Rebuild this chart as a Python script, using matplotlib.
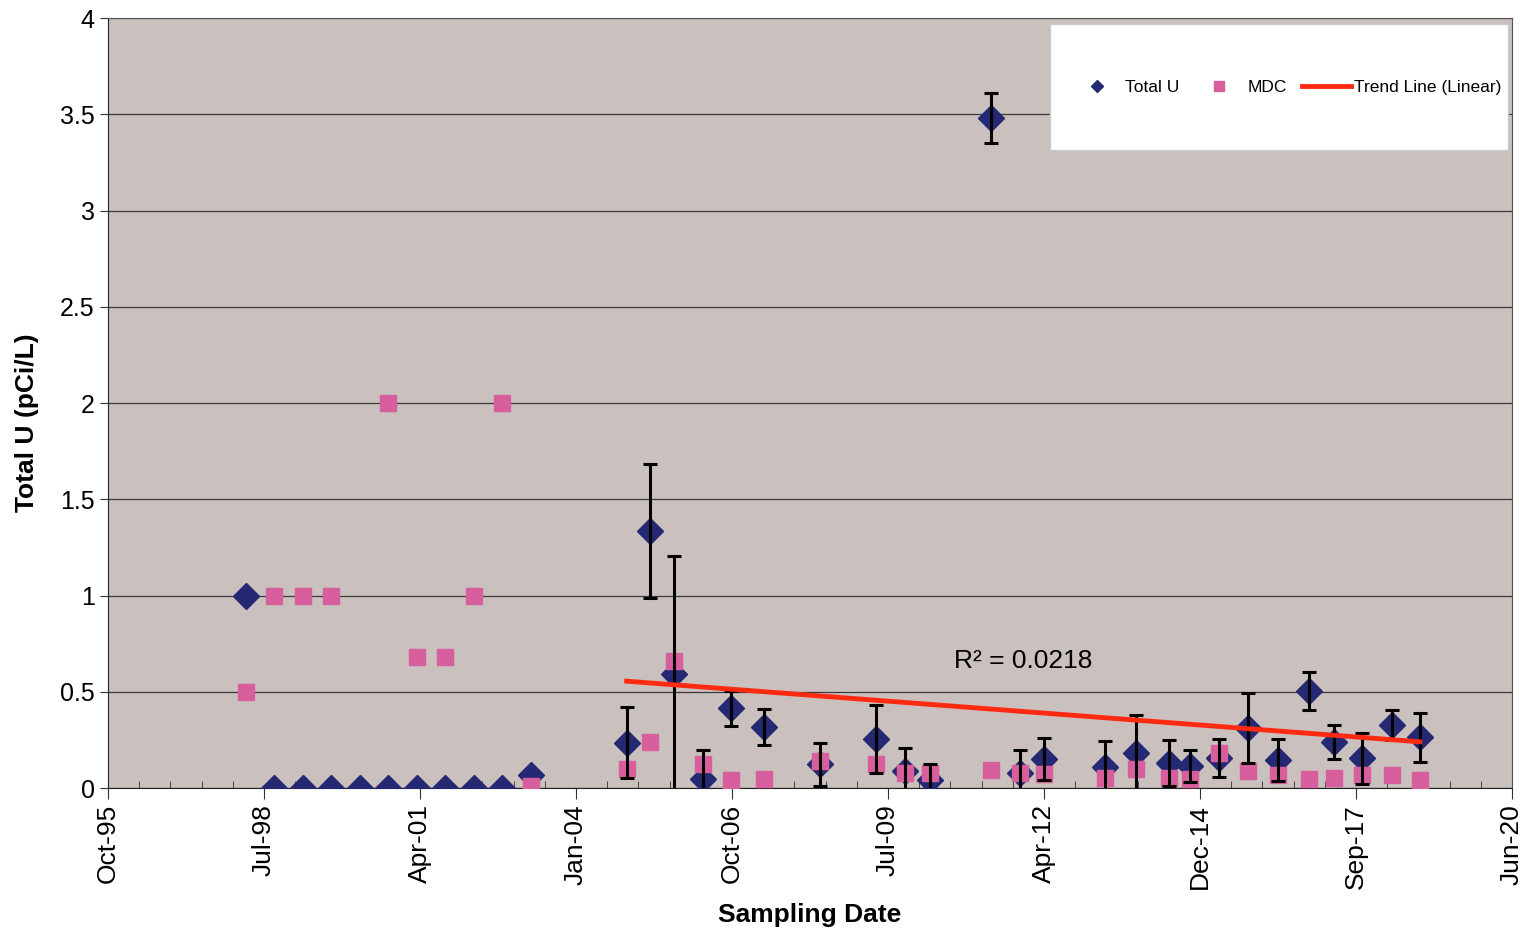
import numpy as np
import pandas as pd
import matplotlib
matplotlib.use('Agg')
import matplotlib.pyplot as plt
import matplotlib.dates as mdates
from matplotlib.lines import Line2D
from matplotlib.patches import Rectangle

plt.rcParams['font.family'] = ['Liberation Sans', 'DejaVu Sans']

# sampling dates
dates = ['1998-03-28', '1998-09-27', '1999-03-28', '1999-09-26', '2000-03-28',
         '2000-09-27', '2001-03-29', '2001-09-29', '2002-03-31', '2002-09-28',
         '2003-03-30', '2004-12-04', '2005-05-03', '2005-10-02', '2006-04-04',
         '2006-10-05', '2007-04-30', '2008-04-27', '2009-04-19', '2009-10-23',
         '2010-04-01', '2011-04-25', '2011-10-30', '2012-04-01', '2013-04-26',
         '2013-11-09', '2014-06-10', '2014-10-23', '2015-04-25', '2015-11-01',
         '2016-05-11', '2016-11-24', '2017-05-05', '2017-11-01', '2018-05-12',
         '2018-11-05']

total_u = [1.0, 0.0, 0.0, 0.0, 0.0, 0.0, 0.0, 0.0, 0.0, 0.0,
           0.07, 0.235, 1.335, 0.59, 0.047, 0.414, 0.318, 0.123, 0.255, 0.088,
           0.04, 3.48, 0.08, 0.15, 0.11, 0.18, 0.131, 0.115, 0.157, 0.313,
           0.145, 0.504, 0.24, 0.154, 0.327, 0.263]

# counting uncertainty (only reported from 2004 on)
total_u_err = [np.nan] * 11 + [0.185, 0.35, 0.615, 0.15, 0.09, 0.092, 0.11, 0.175, 0.118,
                               0.087, 0.13, 0.12, 0.11, 0.136, 0.2, 0.118, 0.085, 0.1, 0.182,
                               0.109, 0.1, 0.087, 0.133, 0.078, 0.127]

mdc = [0.5, 1.0, 1.0, 1.0, np.nan, 2.0, 0.68, 0.68, 1.0, 2.0,
       0.01, 0.10, 0.24, 0.66, 0.125, 0.04, 0.047, 0.14, 0.123, 0.08,
       0.08, 0.093, 0.08, 0.071, 0.054, 0.10, 0.05, 0.047, 0.18, 0.088,
       0.066, 0.047, 0.053, 0.066, 0.066, 0.042]

trend_dates = ['2004-12-04', '2018-11-05']
trend_vals = [0.555, 0.24]
r2_text = 'R² = 0.0218'

x = pd.to_datetime(dates)
xt = pd.to_datetime(trend_dates)

fig = plt.figure(figsize=(15.26, 9.35), dpi=100)
ax = fig.add_axes([0.0708, 0.1572, 0.92, 0.8235])
ax.set_facecolor('#cac0be')

# excel style date axis: serial 35000..44000, major every 1000 days
excel0 = pd.Timestamp('1899-12-30')
xmin = excel0 + pd.Timedelta(days=35000)
xmax = excel0 + pd.Timedelta(days=44000)
majors = [excel0 + pd.Timedelta(days=35000 + 1000 * k) for k in range(10)]
minors = [excel0 + pd.Timedelta(days=35000 + 200 * k) for k in range(46)]

ax.set_xlim(xmin, xmax)
ax.set_ylim(0, 4)
ax.set_xticks(majors)
ax.set_xticks(minors, minor=True)
ax.xaxis.set_major_formatter(mdates.DateFormatter('%b-%y'))
ax.set_yticks(np.arange(0, 4.01, 0.5))
ax.set_yticklabels(['0', '0.5', '1', '1.5', '2', '2.5', '3', '3.5', '4'])
ax.yaxis.grid(True, color='#3a3a3a', linewidth=0.9)
ax.set_axisbelow(True)

ax.tick_params(axis='x', which='major', direction='out', length=8, labelsize=19,
               labelrotation=90, color='#333333')
ax.tick_params(axis='x', which='minor', direction='in', length=5, color='#333333')
ax.tick_params(axis='y', direction='out', length=6, labelsize=18, color='#333333')
for s in ax.spines.values():
    s.set_color('#555555')
ax.spines['left'].set_color('#222222')
ax.spines['bottom'].set_color('#222222')

navy = '#252872'
pink = '#d85f9d'

ax.plot(x, total_u, 'D', color=navy, markersize=13, zorder=3)
ax.plot(x, mdc, 's', color=pink, markersize=11, zorder=4)
ax.errorbar(x, total_u, yerr=total_u_err, fmt='none', ecolor='black',
            elinewidth=2.2, capsize=5, capthick=2.2, zorder=5)
ax.plot(xt, trend_vals, color='#ff2a12', linewidth=3.5, zorder=6)

ax.text(pd.Timestamp('2010-09-01'), 0.66, r2_text, fontsize=19, va='center',
        zorder=7)

ax.set_xlabel('Sampling Date', fontsize=19, fontweight='bold', labelpad=10)
ax.set_ylabel('Total U (pCi/L)', fontsize=19, fontweight='bold')
ax.yaxis.set_label_coords(-0.049, 0.475)

# legend box
ax.add_patch(Rectangle((0.671, 0.829), 0.326, 0.163, transform=ax.transAxes,
                       facecolor='white', edgecolor='#cccccc', zorder=8))
handles = [Line2D([], [], marker='D', color=navy, linestyle='none', markersize=6),
           Line2D([], [], marker='s', color=pink, linestyle='none', markersize=7),
           Line2D([], [], color='#ff2a12', linewidth=3.5)]
leg = ax.legend(handles, ['Total U', 'MDC', 'Trend Line (Linear)'], ncol=3,
                loc='center', bbox_to_anchor=(0.84, 0.91), frameon=False,
                fontsize=12.5, handlelength=2.8, columnspacing=0.9,
                handletextpad=0.2, borderpad=0)
leg.set_zorder(9)

fig.savefig('out.png', dpi=100, facecolor='white')
